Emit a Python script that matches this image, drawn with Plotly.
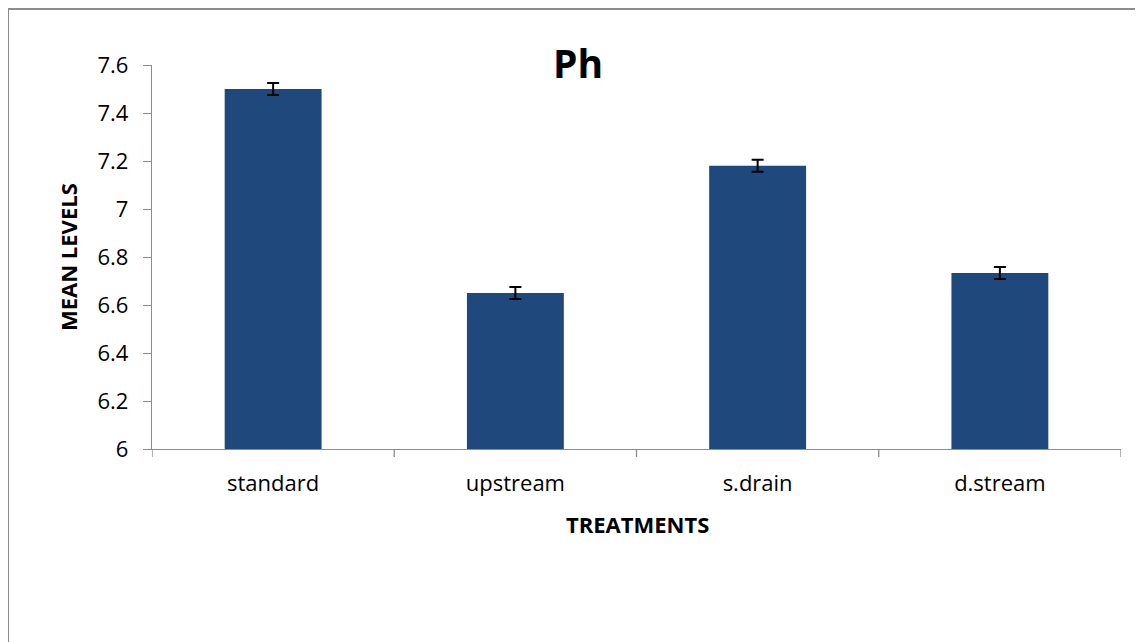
import plotly.graph_objects as go

categories = ["standard", "upstream", "s.drain", "d.stream"]
means = [7.50, 6.65, 7.18, 6.733]
errors = [0.025, 0.025, 0.025, 0.025]
y_ticks = [6, 6.2, 6.4, 6.6, 6.8, 7, 7.2, 7.4, 7.6]
y_tick_text = ["6", "6.2", "6.4", "6.6", "6.8", "7", "7.2", "7.4", "7.6"]

# page has an 8px body margin; work in figure coordinates
OFF = 8
W, H = 1143 - OFF, 642 - OFF
L, R, T, B = 152 - OFF, 22, 65 - OFF, 193
pw, ph = W - L - R, H - T - B

font = "Open Sans, Lato, sans-serif"
grey = "#8c8c8c"


def fx(x):  # page px -> paper x
    return (x - OFF - L) / pw


def fy(y):  # page px -> paper y
    return (H - B - (y - OFF)) / ph


fig = go.Figure()
fig.add_trace(go.Bar(
    x=categories, y=means,
    marker=dict(color="#1F497D", line=dict(color="#1F497D", width=0)),
    error_y=dict(type="data", array=errors, visible=True,
                 color="black", thickness=2, width=6),
    width=0.4,
))

# outer frame (top and left edges)
fig.add_shape(type="line", xref="paper", yref="paper",
              x0=fx(8), x1=fx(1150), y0=fy(9), y1=fy(9),
              line=dict(color=grey, width=2))
fig.add_shape(type="line", xref="paper", yref="paper",
              x0=fx(8), x1=fx(8), y0=fy(9), y1=fy(660),
              line=dict(color=grey, width=2))

# category boundary ticks on x axis
for b in [-0.5, 0.5, 1.5, 2.5, 3.5]:
    fig.add_shape(type="line", xref="x", yref="paper",
                  x0=b, x1=b, y0=0, y1=-8 / ph,
                  line=dict(color=grey, width=1.3))

fig.add_annotation(text="<b>Ph</b>", xref="paper", yref="paper",
                   x=fx(578), y=fy(62), xanchor="center", yanchor="middle",
                   showarrow=False, font=dict(size=39, family=font, color="black"))
fig.add_annotation(text="<b>MEAN LEVELS</b>", xref="paper", yref="paper",
                   x=fx(68), y=fy(257), xanchor="center", yanchor="middle",
                   textangle=-90, showarrow=False,
                   font=dict(size=22, family=font, color="black"))
fig.add_annotation(text="<b>TREATMENTS</b>", xref="paper", yref="paper",
                   x=fx(637), y=fy(524), xanchor="center", yanchor="middle",
                   showarrow=False, font=dict(size=22, family=font, color="black"))

fig.update_layout(
    width=W, height=H,
    margin=dict(l=L, r=R, t=T, b=B, autoexpand=False),
    paper_bgcolor="white", plot_bgcolor="white",
    showlegend=False,
    font=dict(family=font, color="black", size=22),
    xaxis=dict(
        range=[-0.5, 3.5], showline=True, linecolor=grey, linewidth=1.3,
        ticks="", showgrid=False, zeroline=False,
        tickfont=dict(size=22, family=font, color="black"),
        ticklabelstandoff=14,
    ),
    yaxis=dict(
        range=[6, 7.6], tickvals=y_ticks, ticktext=y_tick_text,
        showline=True, linecolor=grey, linewidth=1.3,
        ticks="outside", ticklen=8, tickcolor=grey, tickwidth=1.3,
        showgrid=False, zeroline=False,
        tickfont=dict(size=22, family=font, color="black"),
        ticklabelstandoff=10,
    ),
)

fig.write_html("out.html")
